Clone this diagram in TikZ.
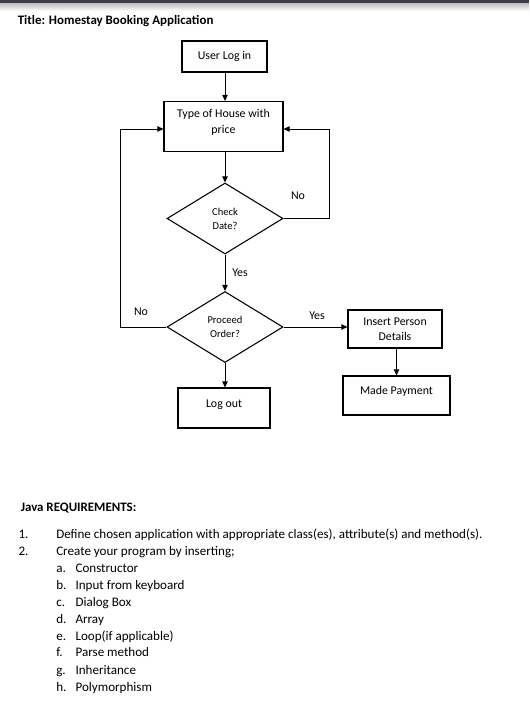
\documentclass[tikz,border=0pt]{standalone}
\usepackage{fontspec}
\setmainfont{Carlito}
\usepackage{xcolor}
\definecolor{pagebar}{HTML}{3B3E42}
\usepackage{tikz}
\usetikzlibrary{shapes.geometric,arrows.meta,positioning,calc}

\begin{document}
\begin{tikzpicture}[x=0.75pt,y=-0.75pt,
    procbox/.style={draw=black,line width=0.8pt,align=center,inner sep=0pt,
      font=\fontsize{8.9}{12}\selectfont},
    decision/.style={diamond,draw=black,line width=0.8pt,align=center,inner sep=0pt,
      minimum width=87pt,minimum height=53.25pt,font=\fontsize{7.9}{10.5}\selectfont},
    flow/.style={-{Triangle[length=4.5pt,width=4pt]},line width=0.7pt},
    lbl/.style={font=\fontsize{8.9}{11}\selectfont},
    body/.style={anchor=base west,inner sep=0pt,font=\fontsize{9.8}{12}\selectfont}]
  \useasboundingbox (0,0) rectangle (529,723);
  \fill[white] (0,0) rectangle (529,723);
  % Page edge
  \fill[pagebar] (0,0) rectangle (529,4);
  \shade[top color=gray!45,bottom color=white] (0,4) rectangle (529,11);
  % Title
  \node[body,font=\fontsize{9.7}{12}\selectfont\bfseries] (title) at (17.5,24.5)
    {Title: Homestay Booking Application};
  % Flow boxes
  \node[procbox,minimum width=63.75pt,minimum height=23.25pt] (login) at (224.5,56.5) {User Log in};
  \node[procbox,minimum width=89.25pt,minimum height=37.5pt,text depth=8pt] (house) at (223.5,126.5)
    {Type of House with\\price};
  \node[decision] (check) at (225,218.5) {Check\\Date?};
  \node[decision] (proceed) at (225,327) {Proceed\\Order?};
  \node[procbox,minimum width=69pt,minimum height=30pt,text depth=7pt] (logout) at (224,408) {Log out};
  \node[procbox,minimum width=70.5pt,minimum height=28.5pt,font=\fontsize{8.9}{11.25}\selectfont]
    (insert) at (395,329) {Insert Person\\Details};
  \node[procbox,minimum width=80.25pt,minimum height=29.25pt,text depth=7pt] (payment) at (396.5,395.5)
    {Made Payment};
  % Loop corners
  \coordinate (noright) at (329,129);
  \coordinate (noleft) at (120,129);
  % Connectors
  \draw[flow] (login.south -| check.north) -- (house.north -| check.north);
  \draw[flow] (house.south -| check.north) -- (check.north);
  \draw[flow] (check) -- (proceed);
  \draw[flow] (check.east) -| (noright) -- (house.east |- noright);
  \draw[flow] (proceed.west) -| (noleft) -- (house.west |- noleft);
  \draw[flow] (proceed.south) -- (logout.north -| proceed.south);
  \draw[flow] (proceed.east) -- (proceed.east -| insert.west);
  \draw[flow] (insert.south -| payment.north) -- (payment.north);
  % Branch labels
  \node[lbl] (nocheck) at (298,196) {No};
  \node[lbl] (noproceed) at (141,312) {No};
  \node[lbl] (yescheck) at (240,273) {Yes};
  \node[lbl] (yesproceed) at (317,316) {Yes};
  % Requirements
  \node[body,font=\fontsize{9.7}{12}\selectfont\bfseries] (javahead) at (20.5,511.7) {Java REQUIREMENTS:};
  \node[body] (num1) at (18.3,538.3) {1.};
  \node[body] (req1) at (56,538.3)
    {Define chosen application with appropriate class(es), attribute(s) and method(s).};
  \node[body] (num2) at (18.3,555.3) {2.};
  \node[body] (req2) at (56,555.3) {Create your program by inserting;};
  \node[body] (suba) at (56,572.3) {a.};
  \node[body] (itema) at (75.3,572.3) {Constructor};
  \node[body] (subb) at (56,589.3) {b.};
  \node[body] (itemb) at (75.3,589.3) {Input from keyboard};
  \node[body] (subc) at (56,606) {c.};
  \node[body] (itemc) at (75.3,606) {Dialog Box};
  \node[body] (subd) at (56,623.3) {d.};
  \node[body] (itemd) at (75.3,623.3) {Array};
  \node[body] (sube) at (56,640) {e.};
  \node[body] (iteme) at (75.3,640) {Loop(if applicable)};
  \node[body] (subf) at (56,656.7) {f.};
  \node[body] (itemf) at (75.3,656.7) {Parse method};
  \node[body] (subg) at (56,674) {g.};
  \node[body] (itemg) at (75.3,674) {Inheritance};
  \node[body] (subh) at (56,691.3) {h.};
  \node[body] (itemh) at (75.3,691.3) {Polymorphism};
\end{tikzpicture}
\end{document}
